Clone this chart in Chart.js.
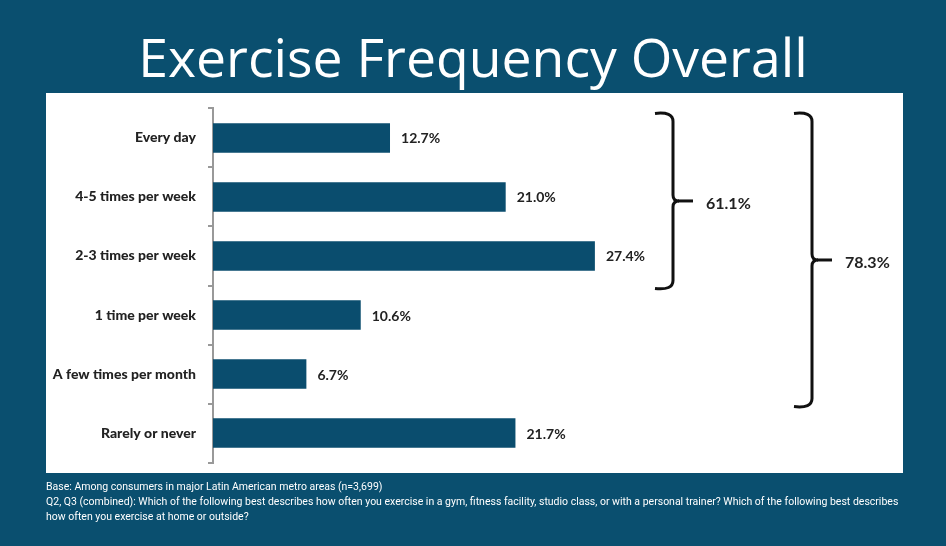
<!DOCTYPE html>
<html>
<head>
<meta charset="utf-8">
<script src="https://cdn.jsdelivr.net/npm/chart.js@4.4.0/dist/chart.umd.min.js"></script>
<style>
  html, body { margin: 0; padding: 0; }
  body { width: 946px; height: 546px; background: #0a4f6f; position: relative; overflow: hidden; font-family: Lato, sans-serif; }
  #title { position: absolute; left: 0; top: 21px; width: 946px; text-align: center; color: #fff; font-family: "Open Sans", sans-serif; font-size: 53.5px; line-height: 72px; }
  #panel { position: absolute; left: 46px; top: 93px; width: 857px; height: 380px; background: #fff; }
  #myChart { position: absolute; left: 0; top: -5px; }
  #notes { position: absolute; left: 46px; top: 479px; width: 880px; color: #fff; font-family: Roboto, sans-serif; font-size: 10.5px; line-height: 15px; }
</style>
</head>
<body>
<div id="title">Exercise Frequency Overall</div>
<div id="panel"><canvas id="myChart" width="857" height="395"></canvas></div>
<div id="notes">Base: Among consumers in major Latin American metro areas (n=3,699)<br>Q2, Q3 (combined): Which of the following best describes how often you exercise in a gym, fitness facility, studio class, or with a personal trainer? Which of the following best describes<br>how often you exercise at home or outside?</div>
<script>
var categories = ['Every day', '4-5 times per week', '2-3 times per week', '1 time per week', 'A few times per month', 'Rarely or never'];
var values = [12.7, 21.0, 27.4, 10.6, 6.7, 21.7];
// bracket groups: first..last category index and the total shown
var groups = [
    { from: 0, to: 2, label: '61.1%', x: 460 },
    { from: 0, to: 4, label: '78.3%', x: 599 }
];

var brackets = {
    id: 'brackets',
    afterDatasetsDraw: function(chart) {
        var ctx = chart.ctx;
        var y = chart.scales.y;
        var left = chart.chartArea.left;
        var band = y.getPixelForValue(1) - y.getPixelForValue(0);
        ctx.save();
        // value labels
        ctx.font = 'bold 14px Lato, sans-serif';
        ctx.fillStyle = '#222';
        ctx.textBaseline = 'middle';
        var meta = chart.getDatasetMeta(0);
        meta.data.forEach(function(bar, i) {
            ctx.fillText(values[i].toFixed(1) + '%', bar.x + 11, bar.y + 1);
        });
        // braces
        ctx.strokeStyle = '#111';
        ctx.lineWidth = 3;
        groups.forEach(function(g) {
            var top = y.getPixelForValue(g.from) - band / 2 + 5;
            var bot = y.getPixelForValue(g.to) + band / 2 + 3;
            var mid = (top + bot) / 2;
            var x = left + g.x;
            ctx.beginPath();
            ctx.moveTo(x - 18, top);
            ctx.quadraticCurveTo(x, top - 2, x, top + 8);
            ctx.lineTo(x, mid - 6);
            ctx.quadraticCurveTo(x, mid, x + 6, mid);
            ctx.quadraticCurveTo(x, mid, x, mid + 6);
            ctx.lineTo(x, bot - 8);
            ctx.quadraticCurveTo(x, bot + 2, x - 18, bot);
            ctx.stroke();
            ctx.beginPath();
            ctx.moveTo(x + 5, mid);
            ctx.lineTo(x + 20, mid);
            ctx.stroke();
            ctx.font = 'bold 16px Lato, sans-serif';
            ctx.fillStyle = '#222';
            ctx.fillText(g.label, x + 33, mid + 3);
        });
        ctx.restore();
    }
};

var ctx = document.getElementById('myChart').getContext('2d');
new Chart(ctx, {
    type: 'bar',
    data: {
        labels: categories,
        datasets: [{
            data: values,
            backgroundColor: '#0a4d6e',
            borderWidth: 0,
            categoryPercentage: 1,
            barPercentage: 0.5
        }]
    },
    plugins: [brackets],
    options: {
        indexAxis: 'y',
        responsive: false,
        animation: false,
        layout: { padding: { top: 10, bottom: 1, left: 0, right: 21 } },
        plugins: { legend: { display: false }, tooltip: { enabled: false } },
        scales: {
            x: { display: false, min: 0, max: 48 },
            y: {
                afterFit: function(s) { s.width = 167; },
                border: { color: '#999', width: 2 },
                grid: { offset: true, drawOnChartArea: false, tickLength: 5, color: '#999', lineWidth: 2 },
                ticks: { padding: 12, color: '#222', font: { family: 'Lato', weight: '900', size: 14 } }
            }
        }
    }
});
</script>
</body>
</html>
